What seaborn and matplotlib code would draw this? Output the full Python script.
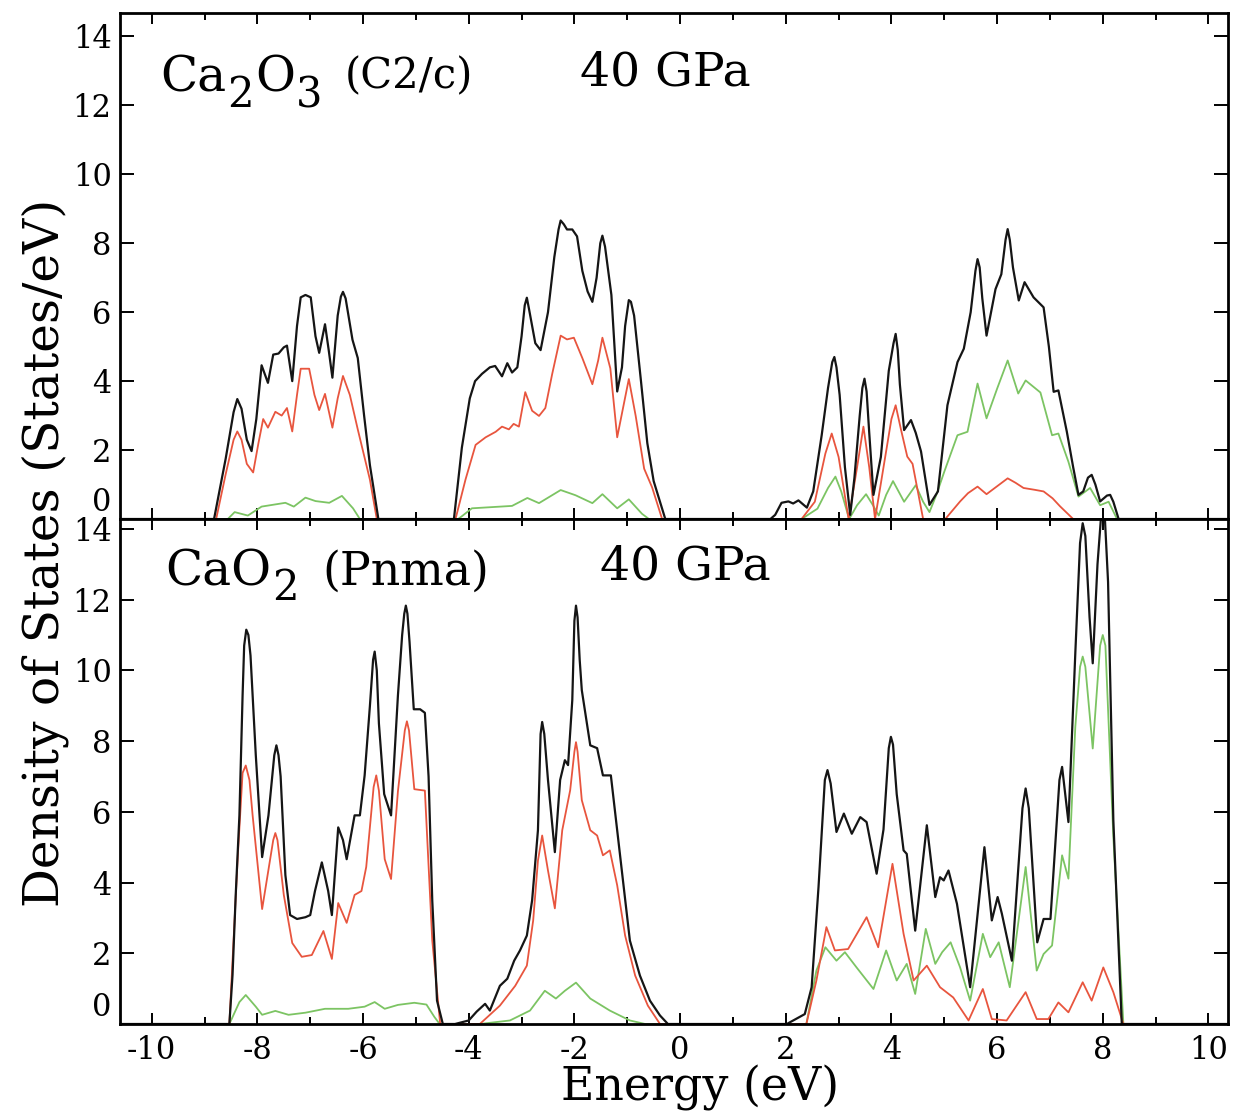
import matplotlib
matplotlib.use("Agg")
import matplotlib.pyplot as plt
from matplotlib.ticker import MultipleLocator
from matplotlib.transforms import offset_copy
import pandas as pd
import seaborn as sns

# ---------------- data: Ca2O3 (C2/c), 40 GPa ----------------
top_total_E = [-10.6, -8.82, -8.6, -8.45, -8.38, -8.3, -8.2, -8.11, -8.02, -7.92, -7.8, -7.7, -7.6, -7.5, -7.44,
               -7.34, -7.25, -7.18, -7.09, -6.99, -6.9, -6.83, -6.72, -6.65, -6.58, -6.48, -6.42, -6.38, -6.33,
               -6.2, -6.1, -5.98, -5.87, -5.71,
               -4.28, -4.13, -3.98, -3.88, -3.75, -3.6, -3.5, -3.37, -3.27, -3.18, -3.08, -3.0, -2.94, -2.9,
               -2.86, -2.74, -2.64, -2.5, -2.38, -2.3, -2.26, -2.2, -2.14, -2.04, -1.95, -1.85, -1.75, -1.66,
               -1.58, -1.51, -1.47, -1.42, -1.3, -1.19, -1.1, -1.04, -0.97, -0.93, -0.87, -0.74, -0.62, -0.5,
               -0.4, -0.28,
               1.71, 1.8, 1.92, 2.05, 2.14, 2.24, 2.4, 2.52, 2.68, 2.8, 2.88, 2.92, 2.96, 3.02, 3.12, 3.22, 3.3,
               3.4, 3.45, 3.49, 3.53, 3.58, 3.66, 3.8, 3.95, 4.04, 4.08, 4.12, 4.16, 4.24, 4.37, 4.46, 4.56, 4.72,
               4.88, 5.06, 5.25, 5.37, 5.5, 5.59, 5.63, 5.67, 5.72, 5.8, 5.97, 6.08, 6.16, 6.2, 6.24, 6.3, 6.41,
               6.52, 6.69, 6.88, 6.98, 7.07, 7.16, 7.32, 7.44, 7.54, 7.63, 7.72, 7.79, 7.86, 7.95, 8.08, 8.14,
               8.2, 8.3, 10.4]
top_total_v = [0, 0, 1.75, 3.1, 3.48, 3.2, 2.3, 1.97, 2.9, 4.46, 3.95, 4.77, 4.8, 4.98, 5.03,
               4.0, 5.6, 6.43, 6.5, 6.43, 5.3, 4.82, 5.65, 4.9, 4.1, 5.9, 6.45, 6.59, 6.4,
               5.2, 4.67, 3.0, 1.56, 0,
               0, 2.07, 3.5, 4.0, 4.21, 4.4, 4.44, 4.14, 4.52, 4.25, 4.4, 5.3, 6.2, 6.42,
               6.1, 5.1, 4.9, 6.0, 7.6, 8.4, 8.66, 8.55, 8.4, 8.4, 8.2, 7.2, 6.6, 6.3,
               7.0, 8.0, 8.22, 7.9, 6.5, 3.7, 4.4, 5.6, 6.35, 6.3, 5.9, 4.0, 2.2, 1.1,
               0.6, 0,
               0, 0.12, 0.47, 0.51, 0.45, 0.54, 0.33, 0.8, 2.43, 3.8, 4.55, 4.7, 4.4, 3.6, 1.5, 0.12, 1.2,
               3.0, 3.8, 4.07, 3.7, 2.5, 0.7, 1.8, 4.3, 5.1, 5.37, 4.9, 3.9, 2.58, 2.87, 2.5, 1.96, 0.41,
               0.8, 3.3, 4.55, 4.94, 6.0, 7.2, 7.54, 7.3, 6.4, 5.32, 6.67, 7.1, 8.1, 8.41, 8.1, 7.3, 6.34,
               6.87, 6.43, 6.14, 5.0, 3.69, 3.73, 2.53, 1.5, 0.7, 0.8, 1.2, 1.28, 1.0, 0.51, 0.68, 0.7,
               0.5, 0, 0]

top_red_E = [-10.6, -8.78, -8.6, -8.45, -8.38, -8.3, -8.2, -8.08, -7.98, -7.89, -7.8, -7.66, -7.54, -7.44, -7.34,
             -7.25, -7.18, -7.02, -6.92, -6.83, -6.72, -6.58, -6.48, -6.38, -6.25, -6.1, -5.87, -5.74,
             -4.25, -4.06, -3.87, -3.68, -3.49, -3.37, -3.24, -3.15, -3.05, -2.93, -2.8, -2.67, -2.55, -2.42,
             -2.26, -2.14, -2.01, -1.85, -1.66, -1.55, -1.47, -1.32, -1.19, -1.09, -0.97, -0.84, -0.68, -0.53,
             -0.34,
             2.3, 2.55, 2.75, 2.87, 3.0, 3.19, 3.35, 3.47, 3.58, 3.69, 3.85, 4.0, 4.08, 4.18, 4.3, 4.4, 4.5, 4.6,
             5.02, 5.3, 5.45, 5.63, 5.8, 6.0, 6.2, 6.35, 6.5, 6.7, 6.88, 7.05, 7.19, 7.44, 10.4]
top_red_v = [0, 0, 1.3, 2.3, 2.54, 2.3, 1.6, 1.35, 2.2, 2.9, 2.65, 3.11, 3.0, 3.22, 2.54,
             3.6, 4.36, 4.36, 3.6, 3.16, 3.63, 2.65, 3.5, 4.15, 3.6, 2.6, 1.14, 0,
             0, 1.15, 2.15, 2.37, 2.53, 2.68, 2.6, 2.76, 2.68, 3.68, 3.14, 2.99, 3.22, 4.21,
             5.32, 5.21, 5.26, 4.67, 3.91, 4.6, 5.26, 4.37, 2.37, 3.14, 4.06, 2.99, 1.46, 0.92,
             0,
             0, 0.5, 1.9, 2.48, 1.8, 0, 1.5, 2.68, 1.5, 0, 1.5, 2.9, 3.3, 2.6, 1.81, 1.6, 0.8, 0,
             0, 0.51, 0.75, 0.94, 0.72, 0.95, 1.18, 1.05, 0.9, 0.85, 0.8, 0.6, 0.37, 0, 0]

top_green_E = [-10.6, -8.56, -8.43, -8.18, -7.92, -7.47, -7.31, -7.09, -6.9, -6.64, -6.4, -6.19, -6.06,
               -4.2, -4.13, -3.94, -3.18, -2.89, -2.67, -2.26, -1.98, -1.66, -1.47, -1.19, -0.97, -0.72, -0.59,
               2.3, 2.6, 2.8, 2.94, 3.05, 3.2, 3.35, 3.52, 3.65, 3.76, 3.9, 4.03, 4.24, 4.46, 4.6, 4.72, 4.85,
               5.0, 5.25, 5.44, 5.63, 5.8, 6.0, 6.2, 6.4, 6.54, 6.82, 7.04, 7.16, 7.35, 7.54, 7.76, 7.95, 8.11,
               8.27, 10.4]
top_green_v = [0, 0, 0.2, 0.1, 0.36, 0.47, 0.36, 0.62, 0.52, 0.47, 0.67, 0.31, 0,
               0, 0.08, 0.31, 0.38, 0.61, 0.46, 0.84, 0.69, 0.46, 0.72, 0.31, 0.57, 0.15, 0,
               0, 0.3, 0.9, 1.23, 0.8, 0, 0.4, 0.72, 0.4, 0.1, 0.7, 1.1, 0.5, 0.98, 0.5, 0.2, 0.7,
               1.37, 2.43, 2.53, 3.93, 2.92, 3.78, 4.6, 3.64, 4.02, 3.67, 2.43, 2.48, 1.66, 0.65, 0.9, 0.4, 0.5,
               0, 0]

# ---------------- data: CaO2 (Pnma), 40 GPa ----------------
low_total_E = [-10.6, -8.53, -8.47, -8.41, -8.34, -8.28, -8.25, -8.21, -8.17, -8.13, -8.03, -7.91, -7.79, -7.72,
               -7.68, -7.64, -7.6, -7.56, -7.47, -7.38, -7.25, -7.09, -7.0, -6.91, -6.78, -6.66, -6.59, -6.47,
               -6.38, -6.31, -6.16, -6.06, -5.97, -5.87, -5.81, -5.78, -5.74, -5.7, -5.6, -5.47, -5.34, -5.26,
               -5.22, -5.19, -5.16, -5.12, -5.04, -4.92, -4.83, -4.76, -4.69, -4.6, -4.49,
               -4.26, -4.0, -3.85, -3.69, -3.6, -3.41, -3.27, -3.14, -3.03, -2.9, -2.8, -2.69, -2.64, -2.61, -2.57,
               -2.5, -2.37, -2.27, -2.18, -2.12, -2.04, -2.0, -1.97, -1.94, -1.9, -1.86, -1.7, -1.57, -1.46,
               -1.31, -1.19, -1.08, -0.95, -0.76, -0.57, -0.38, -0.23,
               2.02, 2.36, 2.49, 2.62, 2.74, 2.79, 2.85, 2.96, 3.1, 3.25, 3.41, 3.53, 3.72, 3.85, 3.95, 3.99,
               4.03, 4.1, 4.23, 4.29, 4.45, 4.67, 4.83, 4.92, 4.99, 5.08, 5.24, 5.49, 5.76, 5.9, 6.01, 6.09,
               6.28, 6.48, 6.54, 6.6, 6.76, 6.88, 7.01, 7.18, 7.23, 7.35, 7.48, 7.57, 7.62, 7.67, 7.75, 7.81,
               7.9, 8.01, 8.1, 8.2, 8.36, 10.4]
low_total_v = [0, 0, 1.39, 3.65, 5.9, 9.29, 10.7, 11.15, 11.0, 10.42, 7.6, 4.72, 5.9, 7.0,
               7.6, 7.88, 7.6, 7.0, 4.21, 3.08, 2.97, 3.02, 3.08, 3.76, 4.57, 3.76, 3.08, 5.56,
               5.2, 4.66, 5.9, 5.9, 7.03, 9.0, 10.3, 10.53, 10.0, 8.5, 6.5, 5.9, 9.29, 11.0,
               11.6, 11.83, 11.6, 10.8, 8.9, 8.9, 8.8, 7.0, 3.49, 0.66, 0,
               0, 0.1, 0.35, 0.57, 0.38, 1.08, 1.28, 1.79, 2.08, 2.5, 3.5, 5.48, 8.2, 8.54, 8.2,
               6.9, 4.86, 6.9, 7.46, 7.32, 9.16, 11.4, 11.83, 11.5, 10.3, 9.44, 7.88, 7.8, 7.03,
               7.03, 5.48, 4.06, 2.36, 1.37, 0.66, 0.24, 0,
               0, 0.28, 1.04, 3.87, 6.9, 7.18, 6.8, 5.43, 5.95, 5.38, 5.85, 5.71, 4.25, 5.5, 7.8, 8.12,
               7.9, 6.5, 4.91, 4.81, 2.64, 5.62, 3.59, 4.15, 4.06, 4.34, 3.4, 1.04, 5.0, 2.93, 3.59, 3.12,
               1.79, 6.1, 6.66, 6.1, 2.31, 2.97, 2.97, 6.9, 7.27, 5.71, 10.48, 13.6, 14.16, 13.8, 11.5, 10.2,
               13.0, 15.2, 12.5, 5.76, 0, 0]

low_red_E = [-10.6, -8.53, -8.37, -8.28, -8.22, -8.15, -8.09, -7.91, -7.7, -7.66, -7.62, -7.5, -7.34, -7.16,
             -6.97, -6.75, -6.59, -6.47, -6.31, -6.16, -6.03, -5.94, -5.8, -5.75, -5.7, -5.59, -5.47, -5.34,
             -5.21, -5.17, -5.13, -5.03, -4.83, -4.69, -4.54,
             -3.79, -3.41, -3.12, -2.9, -2.78, -2.69, -2.61, -2.5, -2.37, -2.23, -2.08, -2.0, -1.97, -1.94,
             -1.86, -1.7, -1.57, -1.46, -1.33, -1.19, -1.04, -0.85, -0.61, -0.38,
             2.39, 2.58, 2.77, 2.93, 3.18, 3.53, 3.75, 4.02, 4.23, 4.42, 4.67, 4.92, 5.17, 5.46, 5.73, 5.9, 6.18,
             6.54, 6.75, 6.97, 7.16, 7.35, 7.62, 7.79, 8.01, 8.2, 8.39, 10.4]
low_red_v = [0, 0, 4.77, 7.1, 7.31, 6.9, 5.9, 3.25, 5.2, 5.4, 5.2, 3.65, 2.29, 1.9,
             1.95, 2.63, 1.84, 3.42, 2.86, 3.65, 3.76, 4.44, 6.7, 7.03, 6.6, 4.66, 4.1, 6.58,
             8.3, 8.56, 8.3, 6.64, 6.6, 2.36, 0,
             0, 0.52, 1.08, 1.65, 2.93, 4.62, 5.33, 4.34, 3.27, 5.48, 6.61, 7.7, 7.97, 7.7,
             6.33, 5.48, 5.33, 4.77, 4.91, 3.92, 2.5, 1.37, 0.52, 0,
             0, 1.23, 2.74, 2.08, 2.12, 3.02, 2.17, 4.53, 2.55, 1.23, 1.65, 1.04, 0.75, 0.1, 0.99, 0.14, 0.1,
             0.9, 0.14, 0.14, 0.61, 0.33, 1.18, 0.66, 1.6, 0.9, 0, 0]

low_green_E = [-10.6, -8.53, -8.34, -8.22, -8.03, -7.91, -7.66, -7.41, -7.09, -6.72, -6.28, -5.97, -5.78, -5.59,
               -5.34, -5.03, -4.8, -4.65, -4.55,
               -3.79, -3.22, -2.84, -2.56, -2.35, -2.18, -1.97, -1.7, -1.33, -0.95, -0.66,
               2.39, 2.58, 2.75, 2.96, 3.12, 3.34, 3.66, 3.9, 4.1, 4.29, 4.45, 4.65, 4.83, 4.96, 5.12, 5.3, 5.49,
               5.73, 5.87, 6.03, 6.24, 6.54, 6.75, 6.88, 7.04, 7.23, 7.35, 7.48, 7.57, 7.62, 7.67, 7.81, 7.95,
               8.0, 8.05, 8.2, 8.39, 10.4]
low_green_v = [0, 0, 0.62, 0.82, 0.49, 0.26, 0.37, 0.26, 0.32, 0.43, 0.43, 0.49, 0.62, 0.43,
               0.54, 0.6, 0.55, 0.2, 0,
               0, 0.1, 0.38, 0.94, 0.72, 0.94, 1.17, 0.72, 0.38, 0.1, 0,
               0, 1.51, 2.17, 1.79, 2.03, 1.6, 0.99, 2.08, 1.23, 1.7, 0.85, 2.69, 1.7, 2.03, 2.31, 1.6, 0.66,
               2.55, 1.89, 2.31, 1.04, 4.44, 1.51, 1.98, 2.22, 4.77, 4.11, 8.4, 10.1, 10.39, 10.1, 7.79, 10.7,
               11.0, 10.7, 5.29, 0, 0]

x_ticks = [-10, -8, -6, -4, -2, 0, 2, 4, 6, 8, 10]
y_ticks = [2, 4, 6, 8, 10, 12, 14]

BLACK, RED, GREEN = "#151515", "#e8553e", "#7cc463"

sns.set_theme(style="white")
plt.rcParams["font.family"] = ["DejaVu Serif"]
plt.rcParams["mathtext.fontset"] = "dejavuserif"
plt.rcParams["axes.unicode_minus"] = False
for key in ("text.color", "axes.labelcolor", "xtick.color", "ytick.color", "axes.edgecolor"):
    plt.rcParams[key] = "black"

W, H = 1239, 1120
fig = plt.figure(figsize=(W / 100, H / 100), dpi=100)


def rect(l, t, r, b):
    return [l / W, 1 - b / H, (r - l) / W, (b - t) / H]


ax1 = fig.add_axes(rect(120, 13, 1228, 519))
ax2 = fig.add_axes(rect(120, 519, 1228, 1024), sharex=ax1)

panels = [
    (ax1, (top_green_E, top_green_v), (top_red_E, top_red_v), (top_total_E, top_total_v), 14.68),
    (ax2, (low_green_E, low_green_v), (low_red_E, low_red_v), (low_total_E, low_total_v), 14.28),
]

for ax, g, r, t, ytop in panels:
    for (ex, vy), col, lw in ((g, GREEN, 1.3), (r, RED, 1.3), (t, BLACK, 1.6)):
        df = pd.DataFrame({"E": ex, "DOS": vy})
        sns.lineplot(data=df, x="E", y="DOS", ax=ax, color=col, linewidth=lw,
                     sort=False, estimator=None, solid_joinstyle="round")
    ax.set_xlim(-10.6, 10.37)
    ax.set_ylim(0, ytop)
    ax.set_xlabel("")
    ax.set_ylabel("")
    ax.set_xticks(x_ticks)
    ax.xaxis.set_minor_locator(MultipleLocator(1))
    ax.set_yticks(y_ticks)
    ax.set_yticklabels([str(v) for v in y_ticks])
    for s in ax.spines.values():
        s.set_visible(True)
        s.set_linewidth(2.0)
        s.set_color("black")
    ax.tick_params(axis="both", which="both", direction="in", top=True, right=True,
                   bottom=True, left=True, colors="black", width=1.4)
    ax.tick_params(axis="x", which="major", length=8, labelsize=22, pad=8)
    ax.tick_params(axis="x", which="minor", length=5)
    ax.tick_params(axis="y", which="major", length=10, labelsize=22, pad=6)
    ax.annotate("0", xy=(0, 0), xycoords=("axes fraction", "data"), xytext=(-6, 12),
                textcoords="offset points", ha="right", va="center", fontsize=22)
    ax.set_facecolor("white")

ax1.tick_params(axis="x", labelbottom=False)
ax2.set_xticklabels([str(v) for v in x_ticks])


def ftext(x, y, s, **kw):
    return fig.text(x / W, 1 - y / H, s, **kw)


def formula(x, y, parts):
    """parts: list of (text, fontsize, baseline drop in px); laid out left to right."""
    fig.canvas.draw()
    renderer = fig.canvas.get_renderer()
    cur = x
    for s, fs, drop in parts:
        t = ftext(cur, y + drop, s, fontsize=fs, va="baseline", ha="left")
        bb = t.get_window_extent(renderer=renderer)
        cur += bb.width + 1


formula(160, 92, [("Ca", 35, 0), ("2", 30, 15), ("O", 35, 0), ("3", 30, 16)])
ftext(345, 88, "(C2/c)", fontsize=30, va="baseline")
ftext(580, 85, "40 GPa", fontsize=34, va="baseline")
formula(165, 585, [("CaO", 35, 0), ("2", 30, 15)])
ftext(322, 585, "(Pnma)", fontsize=33, va="baseline")
ftext(600, 580, "40 GPa", fontsize=34, va="baseline")

ftext(45, 553, "Density of States (States/eV)", rotation=90, ha="center", va="center", fontsize=35)
ftext(700, 1088, "Energy (eV)", ha="center", va="center", fontsize=33)

fig.savefig("out.png", dpi=100, facecolor="white")
